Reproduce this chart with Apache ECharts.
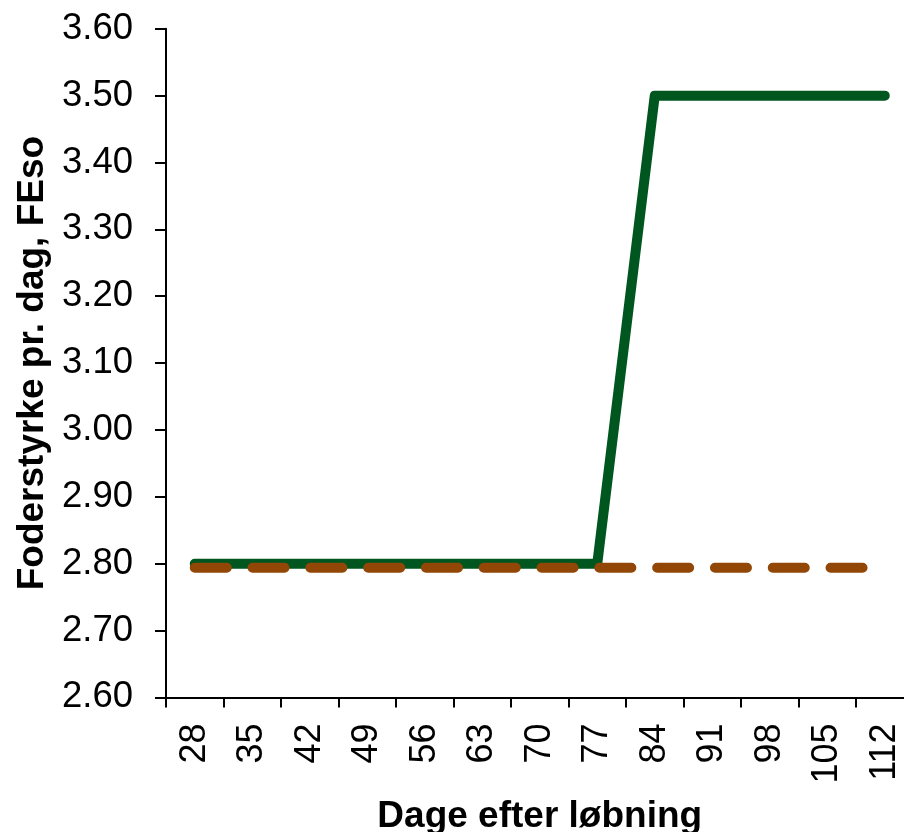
<!DOCTYPE html>
<html>
<head>
<meta charset="utf-8">
<script src="https://cdn.jsdelivr.net/npm/echarts@6/dist/echarts.min.js"></script>
<style>
html,body{margin:0;padding:0;background:#fff;}
#chart{width:904px;height:832px;}
</style>
</head>
<body>
<div id="chart"></div>
<script>
const categories = ['28','35','42','49','56','63','70','77','84','91','98','105','112'];
const greenValues = [2.80,2.80,2.80,2.80,2.80,2.80,2.80,2.80,3.50,3.50,3.50,3.50,3.50];
const brownValues = [2.794,2.794,2.794,2.794,2.794,2.794,2.794,2.794,2.794,2.794,2.794,2.794,2.794];
const xTitle = 'Dage efter løbning';
const yTitle = 'Foderstyrke pr. dag, FEso';

const chart = echarts.init(document.getElementById('chart'), null, {renderer:'canvas'});
const FONT = '"Liberation Sans", Arial, sans-serif';
chart.setOption({
  animation: false,
  backgroundColor: '#fff',
  grid: {left: 166, top: 28.8, bottom: 134.6, right: -9.5, containLabel: false, outerBoundsMode: 'none'},
  xAxis: {
    type: 'category',
    data: categories,
    boundaryGap: true,
    name: xTitle,
    nameLocation: 'middle',
    nameGap: 101,
    nameTextStyle: {fontFamily: FONT, fontSize: 37, fontWeight: 'bold', color: '#000'},
    axisLine: {lineStyle: {color: '#000', width: 2}},
    axisTick: {show: true, alignWithLabel: false, length: 10, lineStyle: {color: '#000', width: 2}},
    axisLabel: {rotate: 90, margin: 26, fontFamily: FONT, fontSize: 36, color: '#000', interval: 0},
    splitLine: {show: false}
  },
  yAxis: {
    type: 'value',
    min: 2.6, max: 3.6, interval: 0.1,
    name: yTitle,
    nameLocation: 'middle',
    nameGap: 113,
    nameTextStyle: {fontFamily: FONT, fontSize: 37, fontWeight: 'bold', color: '#000'},
    axisLine: {show: true, lineStyle: {color: '#000', width: 2}},
    axisTick: {show: true, length: 11, lineStyle: {color: '#000', width: 2}},
    axisLabel: {margin: 33, fontFamily: FONT, fontSize: 36.5, color: '#000',
      formatter: v => v.toFixed(2)},
    splitLine: {show: false}
  },
  series: [
    {
      type: 'line', data: greenValues, showSymbol: false, symbol: 'none',
      lineStyle: {color: '#00561f', width: 10, cap: 'round', join: 'round'},
      itemStyle: {color: '#00561f'}, z: 2
    },
    {
      type: 'line', data: brownValues, showSymbol: false, symbol: 'none',
      lineStyle: {color: '#934706', width: 10, type: [32, 25.8], cap: 'round', join: 'round'},
      itemStyle: {color: '#934706'}, z: 3
    }
  ]
});
</script>
</body>
</html>
